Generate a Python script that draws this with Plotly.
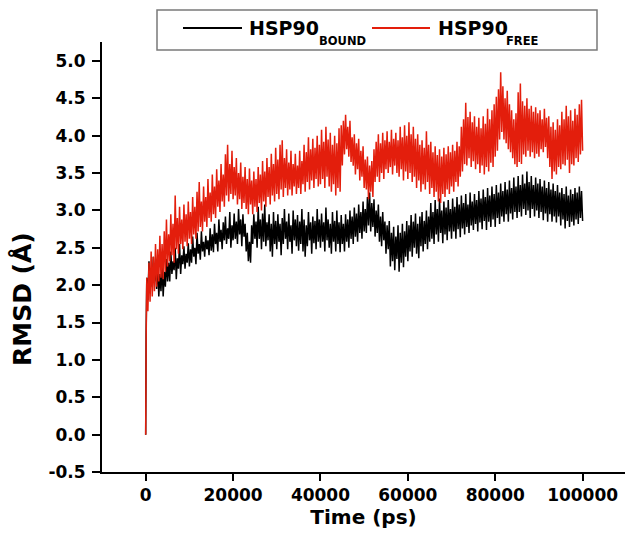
import plotly.graph_objects as go

# ---------------- data ----------------
time_early = [0, 100]
time_main = list(range(250, 100001, 250))
time_ps = time_early + time_main

bound_early = [0.0, 1.35]
bound_main = [
    2.10, 1.80, 2.32, 1.90, 2.20, 1.98, 2.38, 2.05, 2.25, 1.95, 2.30, 1.85, 2.15, 1.92, 2.28, 1.85, 2.18, 1.98, 2.35, 2.05,
    2.30, 2.05, 2.45, 2.15, 2.32, 2.20, 2.50, 2.08, 2.36, 2.22, 2.55, 2.15, 2.40, 2.28, 2.52, 2.22, 2.42, 2.30, 2.56, 2.25,
    2.48, 2.30, 2.65, 2.38, 2.50, 2.28, 2.70, 2.42, 2.55, 2.34, 2.72, 2.45, 2.58, 2.38, 2.66, 2.48, 2.60, 2.40, 2.76, 2.46,
    2.68, 2.44, 2.82, 2.55, 2.70, 2.45, 2.88, 2.58, 2.74, 2.48, 2.84, 2.60, 2.92, 2.55, 2.76, 2.62, 2.98, 2.50, 2.80, 2.60,
    2.96, 2.62, 2.85, 2.55, 3.02, 2.68, 2.88, 2.52, 2.95, 2.65, 2.82, 2.45, 2.70, 2.32, 2.58, 2.30, 2.80, 2.55, 2.95, 2.62,
    2.85, 2.50, 3.05, 2.62, 2.88, 2.48, 2.96, 2.58, 3.08, 2.52, 2.84, 2.60, 2.95, 2.45, 2.82, 2.38, 2.98, 2.55, 2.86, 2.48,
    2.95, 2.58, 2.82, 2.40, 2.90, 2.55, 3.02, 2.62, 2.85, 2.48, 2.96, 2.58, 2.80, 2.42, 3.00, 2.60, 2.88, 2.52, 2.94, 2.46,
    2.85, 2.55, 3.02, 2.45, 2.88, 2.38, 2.80, 2.52, 2.98, 2.60, 2.84, 2.42, 2.92, 2.56, 2.86, 2.48, 3.02, 2.58, 2.88, 2.50,
    2.96, 2.58, 2.84, 2.45, 3.04, 2.60, 2.88, 2.50, 2.82, 2.42, 2.98, 2.58, 2.86, 2.45, 3.00, 2.55, 2.84, 2.44, 2.94, 2.55,
    2.82, 2.45, 2.95, 2.58, 2.88, 2.50, 3.00, 2.62, 2.92, 2.55, 3.04, 2.65, 2.96, 2.58, 3.08, 2.70, 2.98, 2.62, 3.12, 2.72,
    3.02, 2.70, 3.18, 2.80, 3.24, 2.72, 3.10, 2.78, 3.15, 2.65, 3.00, 2.70, 3.08, 2.58, 2.92, 2.52, 2.98, 2.60, 2.85, 2.42,
    2.80, 2.48, 2.86, 2.25, 2.70, 2.32, 2.78, 2.20, 2.65, 2.35, 2.80, 2.18, 2.70, 2.30, 2.82, 2.24, 2.72, 2.38, 2.86, 2.32,
    2.80, 2.45, 2.94, 2.38, 2.85, 2.50, 2.96, 2.42, 2.82, 2.36, 2.92, 2.52, 2.98, 2.45, 2.86, 2.55, 3.00, 2.48, 2.92, 2.58,
    3.10, 2.62, 2.98, 2.55, 3.14, 2.68, 3.02, 2.58, 3.16, 2.70, 3.00, 2.56, 3.12, 2.68, 3.04, 2.60, 3.14, 2.72, 3.02, 2.62,
    3.16, 2.72, 3.05, 2.62, 3.18, 2.75, 3.08, 2.64, 3.20, 2.76, 3.10, 2.68, 3.22, 2.78, 3.08, 2.70, 3.24, 2.80, 3.12, 2.74,
    3.22, 2.82, 3.14, 2.72, 3.26, 2.84, 3.16, 2.75, 3.28, 2.86, 3.18, 2.74, 3.30, 2.85, 3.20, 2.78, 3.32, 2.88, 3.22, 2.78,
    3.34, 2.90, 3.24, 2.82, 3.36, 2.92, 3.26, 2.85, 3.38, 2.95, 3.28, 2.85, 3.40, 2.96, 3.30, 2.88, 3.44, 2.98, 3.32, 2.90,
    3.46, 2.98, 3.34, 2.92, 3.48, 3.02, 3.36, 2.94, 3.52, 3.00, 3.38, 2.90, 3.46, 3.02, 3.34, 2.92, 3.44, 3.00, 3.36, 2.90,
    3.42, 2.98, 3.32, 2.87, 3.40, 2.96, 3.30, 2.85, 3.38, 2.95, 3.28, 2.85, 3.36, 2.92, 3.26, 2.84, 3.34, 2.92, 3.24, 2.80,
    3.30, 2.88, 3.22, 2.76, 3.32, 2.86, 3.20, 2.78, 3.28, 2.85, 3.22, 2.80, 3.30, 2.88, 3.24, 2.82, 3.32, 2.90, 3.26, 2.86,
]
rmsd_bound = bound_early + bound_main

free_early = [0.0, 1.25]
free_main = [
    2.10, 1.65, 2.30, 1.78, 2.45, 1.85, 2.38, 1.92, 2.55, 1.98, 2.48, 2.05, 2.66, 2.10, 2.55, 2.08, 2.72, 2.18, 2.88, 2.25,
    2.68, 2.32, 2.95, 2.40, 2.82, 2.30, 3.20, 2.48, 2.90, 2.42, 3.05, 2.55, 2.88, 2.48, 3.08, 2.58, 2.95, 2.52, 3.12, 2.62,
    2.98, 2.55, 3.18, 2.68, 3.05, 2.62, 3.25, 2.72, 3.38, 2.78, 3.12, 2.72, 3.32, 2.85, 3.18, 2.78, 3.42, 2.90, 3.24, 2.85,
    3.48, 2.95, 3.32, 2.90, 3.55, 3.05, 3.40, 2.98, 3.62, 3.12, 3.48, 3.05, 3.75, 3.20, 3.88, 3.12, 3.62, 3.22, 3.80, 3.15,
    3.58, 3.20, 3.70, 3.08, 3.50, 3.15, 3.64, 3.02, 3.45, 3.10, 3.58, 3.02, 3.42, 2.95, 3.56, 3.08, 3.40, 2.95, 3.52, 3.05,
    3.42, 2.98, 3.58, 3.10, 3.48, 3.00, 3.66, 3.12, 3.52, 3.05, 3.70, 3.18, 3.58, 3.08, 3.76, 3.20, 3.62, 3.12, 3.84, 3.22,
    3.68, 3.15, 3.88, 3.28, 3.94, 3.18, 3.70, 3.30, 3.82, 3.20, 3.64, 3.28, 3.80, 3.20, 3.62, 3.32, 3.76, 3.22, 3.60, 3.30,
    3.80, 3.22, 3.66, 3.35, 3.88, 3.25, 3.78, 3.38, 3.98, 3.28, 3.82, 3.40, 3.96, 3.30, 3.84, 3.42, 4.00, 3.32, 3.88, 3.35,
    4.08, 3.42, 3.92, 3.30, 4.12, 3.45, 3.95, 3.32, 4.04, 3.25, 3.88, 3.35, 4.00, 3.20, 3.90, 3.30, 4.10, 3.25, 4.14, 3.60,
    4.20, 3.75, 4.28, 3.82, 4.12, 3.72, 4.20, 3.65, 3.98, 3.60, 4.02, 3.48, 3.90, 3.55, 3.96, 3.40, 3.80, 3.45, 3.86, 3.30,
    3.68, 3.28, 3.72, 3.15, 3.60, 3.25, 3.66, 3.18, 3.82, 3.38, 3.92, 3.45, 4.02, 3.38, 3.90, 3.50, 4.04, 3.42, 3.94, 3.55,
    4.06, 3.50, 3.92, 3.58, 4.08, 3.48, 3.96, 3.60, 4.04, 3.50, 3.94, 3.45, 4.12, 3.55, 3.98, 3.40, 4.14, 3.52, 4.00, 3.42,
    4.18, 3.50, 4.02, 3.38, 4.12, 3.45, 3.96, 3.30, 4.02, 3.40, 3.88, 3.25, 3.94, 3.35, 3.84, 3.28, 4.06, 3.38, 3.88, 3.22,
    3.92, 3.30, 3.78, 3.18, 3.86, 3.25, 3.74, 3.12, 3.82, 3.10, 3.72, 3.22, 3.84, 3.18, 3.75, 3.28, 3.86, 3.22, 3.78, 3.32,
    3.88, 3.25, 3.80, 3.38, 3.92, 3.32, 3.86, 3.45, 4.12, 3.52, 4.22, 3.62, 4.44, 3.60, 4.25, 3.70, 4.32, 3.58, 4.18, 3.66,
    4.26, 3.55, 4.12, 3.62, 4.24, 3.50, 4.10, 3.60, 4.26, 3.48, 4.16, 3.58, 4.36, 3.52, 4.22, 3.64, 4.34, 3.58, 4.42, 3.72,
    4.52, 3.80, 4.62, 3.95, 4.85, 4.05, 4.66, 3.95, 4.50, 3.90, 4.60, 3.82, 4.42, 3.78, 4.34, 3.70, 4.22, 3.62, 4.30, 3.58,
    4.58, 3.65, 4.70, 3.62, 4.46, 3.75, 4.40, 3.72, 4.50, 3.80, 4.36, 3.72, 4.40, 3.78, 4.32, 3.70, 4.38, 3.76, 4.30, 3.72,
    4.34, 3.82, 4.22, 3.78, 4.36, 3.85, 4.24, 3.70, 4.26, 3.58, 4.12, 3.42, 4.18, 3.52, 4.08, 3.48, 4.22, 3.58, 4.14, 3.55,
    4.32, 3.62, 4.22, 3.60, 4.40, 3.68, 4.26, 3.50, 4.34, 3.62, 4.20, 3.60, 4.36, 3.70, 4.28, 3.65, 4.42, 3.75, 4.48, 3.80,
]
rmsd_free = free_early + free_main

x_ticks = [0, 20000, 40000, 60000, 80000, 100000]
y_ticks = [-0.5, 0.0, 0.5, 1.0, 1.5, 2.0, 2.5, 3.0, 3.5, 4.0, 4.5, 5.0]

# ---------------- styling ----------------
W, H = 625, 538
ML, MR, MT, MB = 102, 0, 42, 66
PW, PH = W - ML - MR, H - MT - MB
FONT = "DejaVu Sans, Arial, sans-serif"
RED = "#E31E0C"


def px(xp):
    return (xp - ML) / PW


def py(yp):
    return (H - MB - yp) / PH


fig = go.Figure()
fig.add_trace(go.Scatter(x=time_ps, y=rmsd_bound, mode="lines",
                         line=dict(color="black", width=1.5, simplify=False), showlegend=False))
fig.add_trace(go.Scatter(x=time_ps, y=rmsd_free, mode="lines",
                         line=dict(color=RED, width=1.5, simplify=False), showlegend=False))

axis_common = dict(
    showgrid=False, zeroline=False, showline=True, linecolor="black", linewidth=2,
    ticks="outside", tickcolor="black", tickwidth=2, mirror=False,
)

fig.update_xaxes(
    **axis_common, range=[-10000, 109700], tickvals=x_ticks,
    ticktext=[str(v) for v in x_ticks], ticklen=7,
    tickfont=dict(family=FONT, size=17, color="black", weight="bold"),
    title=dict(text="Time (ps)", font=dict(family=FONT, size=20, color="black", weight="bold"), standoff=4),
)
fig.update_yaxes(
    **axis_common, range=[-0.5, 5.254], tickvals=y_ticks,
    ticktext=[f"{v:.1f}" for v in y_ticks], ticklen=8, ticklabelstandoff=3,
    tickfont=dict(family=FONT, size=17, color="black", weight="bold"),
)

# legend box drawn manually to match the reference layout
shapes = [
    dict(type="rect", xref="paper", yref="paper", x0=px(157), x1=px(597), y0=py(50), y1=py(10),
         line=dict(color="#7a7a7a", width=1.5), fillcolor="white", layer="above"),
    dict(type="line", xref="paper", yref="paper", x0=px(183), x1=px(242), y0=py(28), y1=py(28),
         line=dict(color="black", width=2), layer="above"),
    dict(type="line", xref="paper", yref="paper", x0=px(372), x1=px(430), y0=py(28), y1=py(28),
         line=dict(color=RED, width=2), layer="above"),
]
annotations = [
    dict(text="HSP90", x=px(247), y=py(28), xref="paper", yref="paper", xanchor="left", yanchor="middle",
         showarrow=False, font=dict(family=FONT, size=19, color="black", weight="bold")),
    dict(text="BOUND", x=px(317), y=py(41), xref="paper", yref="paper", xanchor="left", yanchor="middle",
         showarrow=False, font=dict(family=FONT, size=11.5, color="black", weight="bold")),
    dict(text="HSP90", x=px(436), y=py(28), xref="paper", yref="paper", xanchor="left", yanchor="middle",
         showarrow=False, font=dict(family=FONT, size=19, color="black", weight="bold")),
    dict(text="FREE", x=px(504), y=py(41), xref="paper", yref="paper", xanchor="left", yanchor="middle",
         showarrow=False, font=dict(family=FONT, size=11.5, color="black", weight="bold")),
    # y-axis title
    dict(text="RMSD (Å)", x=px(22), y=py(299), xref="paper", yref="paper", xanchor="center", yanchor="middle",
         textangle=-90, showarrow=False, font=dict(family=FONT, size=25, color="black", weight="bold")),
]

fig.update_layout(
    width=W, height=H, margin=dict(l=ML, r=MR, t=MT, b=MB),
    paper_bgcolor="white", plot_bgcolor="white",
    shapes=shapes, annotations=annotations, showlegend=False,
    font=dict(family=FONT, color="black"),
)

fig.write_html(
    "out.html",
    config={"displayModeBar": False},
    post_script="document.body.style.margin='0';document.body.style.overflow='hidden';",
)
